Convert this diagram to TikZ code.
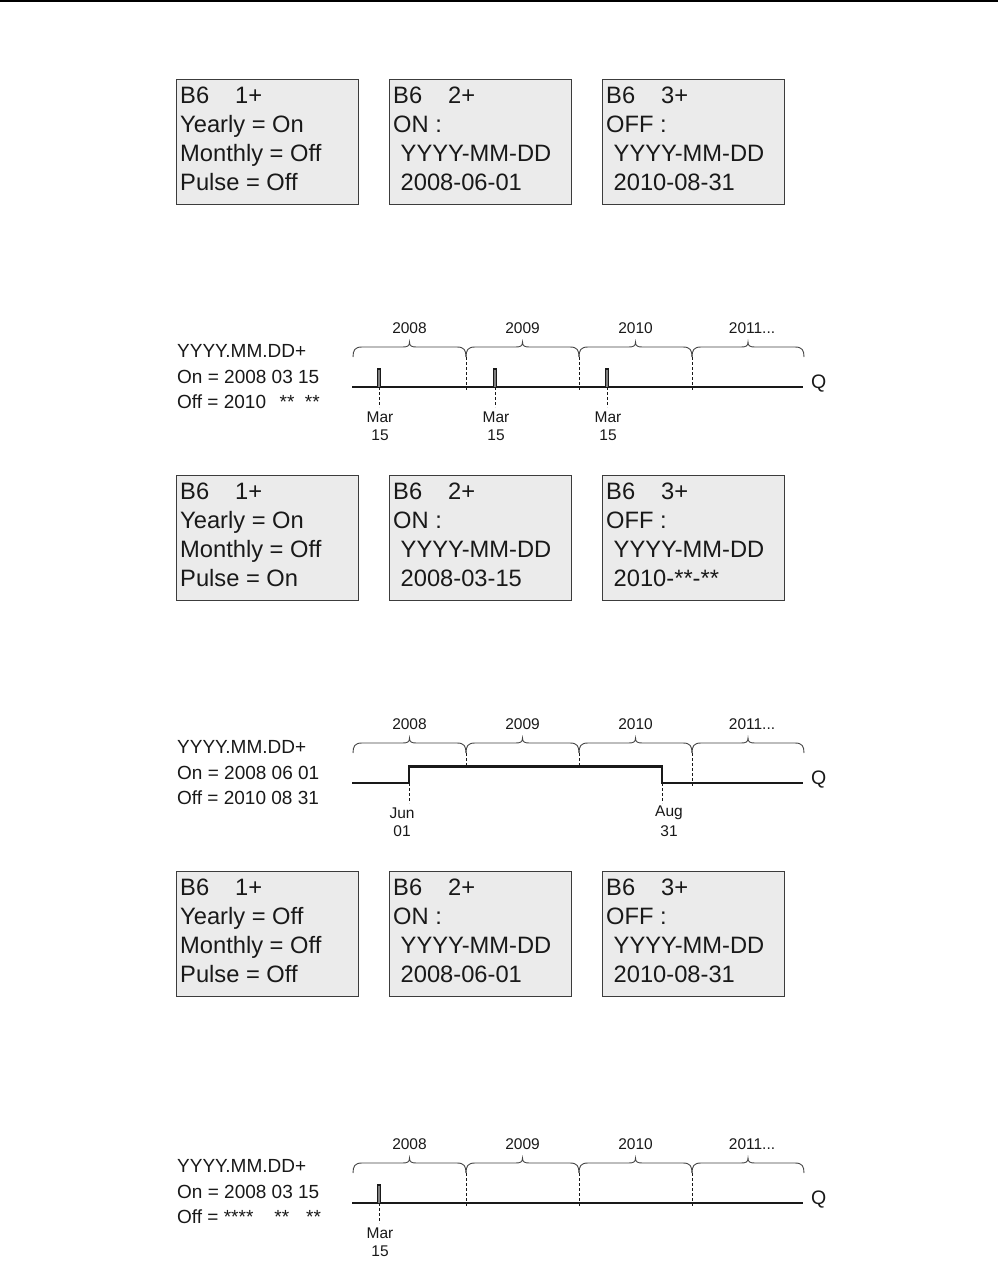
\documentclass[tikz,border=0pt]{standalone}
\usepackage{fontspec}
\setmainfont{Liberation Sans}
\usetikzlibrary{calc}
\definecolor{boxfill}{RGB}{235,235,235}
\definecolor{boxborder}{RGB}{60,60,60}
\definecolor{inkdark}{RGB}{25,25,25}
\definecolor{bracegray}{RGB}{70,70,70}
\tikzset{
  lcdbox/.style={draw=boxborder, fill=boxfill, line width=1.2pt, minimum width=182pt, minimum height=125pt, anchor=north west, inner sep=0pt},
  lcdtxt/.style={anchor=base west, inner sep=0pt, text=inkdark, font=\fontsize{23.7}{28}\selectfont},
  param/.style={anchor=base west, inner sep=0pt, text=inkdark, font=\fontsize{19}{23}\selectfont},
  yrlbl/.style={inner sep=0pt, text=inkdark, font=\fontsize{15.5}{18}\selectfont},
  qlbl/.style={anchor=west, inner sep=0pt, text=inkdark, font=\fontsize{19.5}{23}\selectfont},
  sig/.style={draw=inkdark, line width=2.3pt, line join=miter},
  pulsebar/.style={draw=inkdark, fill=gray, line width=1.2pt},
  brc/.style={draw=bracegray, line width=0.9pt},
  bound/.style={draw=inkdark, line width=0.9pt, dash pattern=on 3pt off 2pt},
  rule/.style={draw=black, line width=1.2pt}
}
\newcommand\lcdpanel[7]{%
  \node[lcdbox] (#1) at (#2,#3) {};
  \node[lcdtxt] (#1-a) at ($(#1.north west)+(4,24)$) {#4};
  \node[lcdtxt] (#1-b) at ($(#1.north west)+(4,53)$) {#5};
  \node[lcdtxt] (#1-c) at ($(#1.north west)+(4,82)$) {#6};
  \node[lcdtxt] (#1-d) at ($(#1.north west)+(4,111)$) {#7};
}
\newcommand\yrbrace[3]{%
  \pgfmathsetmacro\bxm{(#1+#2)/2}%
  \draw[brc] (#1,#3-30) .. controls (#1,#3-37) and (#1+2,#3-40) .. (#1+9,#3-40)
    -- (\bxm-7,#3-40) .. controls (\bxm-2,#3-40) and (\bxm,#3-41) .. (\bxm,#3-45)
    .. controls (\bxm,#3-41) and (\bxm+2,#3-40) .. (\bxm+7,#3-40)
    -- (#2-9,#3-40) .. controls (#2-2,#3-40) and (#2,#3-37) .. (#2,#3-30);
}
\newcommand\yearrow[2]{% #1 prefix, #2 line y
  \yrbrace{353}{466}{#2}\yrbrace{466}{579}{#2}\yrbrace{579}{692}{#2}\yrbrace{692}{804}{#2}
  \node[yrlbl] (#1-y8) at (409.5,#2-59) {2008};
  \node[yrlbl] (#1-y9) at (522.5,#2-59) {2009};
  \node[yrlbl] (#1-y10) at (635.5,#2-59) {2010};
  \node[yrlbl] (#1-y11) at (752,#2-59) {2011...};
}
\newcommand\evlabel[6]{% name, x, L, month, day, label x
  \coordinate (#1-top) at (#2,#3);
  \coordinate (#1-bot) at (#2,#3+20);
  \draw[bound] (#1-top) -- (#1-bot);
  \node[yrlbl] (#1-m) at (#6,#3+30) {#4};
  \node[yrlbl] (#1-d) at (#6,#3+48.5) {#5};
}
\newcommand\pulse[3]{% name, x, L
  \draw[pulsebar] (#2-1.7,#3) -- (#2-1.7,#3-18) -- (#2+1.7,#3-18) -- (#2+1.7,#3);
}
\begin{document}
\begin{tikzpicture}[x=1pt,y=-1pt]
\fill[white] (0,0) rectangle (998,1264);
\useasboundingbox (0,0) rectangle (998,1264);
\coordinate (ruleA) at (0,1);
\coordinate (ruleB) at (998,1);
\draw[rule] (ruleA) -- (ruleB);

% ---------- panel set 1 ----------
\lcdpanel{p11}{176}{79}{\makebox[55pt][l]{B6}1+}{Yearly = On}{Monthly = Off}{Pulse = Off}
\lcdpanel{p12}{389}{79}{\makebox[55pt][l]{B6}2+}{ON :}{\hspace{7.5pt}YYYY-MM-DD}{\hspace{7.5pt}2008-06-01}
\lcdpanel{p13}{602}{79}{\makebox[55pt][l]{B6}3+}{OFF :}{\hspace{7.5pt}YYYY-MM-DD}{\hspace{7.5pt}2010-08-31}

% ---------- timeline 1 (L=387) ----------
\node[param] (t1a) at (177,357) {YYYY.MM.DD+};
\node[param] (t1b) at (177,383) {On = 2008 03 15};
\node[param] (t1c) at (177,408) {Off = 2010\hspace{13.5pt}**\hspace{10.5pt}**};
\yearrow{t1}{387}
\draw[bound] (466,357) -- (466,390);
\draw[bound] (579,357) -- (579,390);
\draw[bound] (692,357) -- (692,390);
\coordinate (t1s) at (352,387);
\coordinate (t1e) at (803,387);
\draw[sig] (t1s) -- (t1e);
\pulse{t1p1}{379}{387}
\pulse{t1p2}{495}{387}
\pulse{t1p3}{607}{387}
\evlabel{t1e1}{379}{387}{Mar}{15}{380}
\evlabel{t1e2}{495}{387}{Mar}{15}{496}
\evlabel{t1e3}{607}{387}{Mar}{15}{608}
\node[qlbl] (t1q) at (811,384) {Q};

% ---------- panel set 2 ----------
\lcdpanel{p21}{176}{475}{\makebox[55pt][l]{B6}1+}{Yearly = On}{Monthly = Off}{Pulse = On}
\lcdpanel{p22}{389}{475}{\makebox[55pt][l]{B6}2+}{ON :}{\hspace{7.5pt}YYYY-MM-DD}{\hspace{7.5pt}2008-03-15}
\lcdpanel{p23}{602}{475}{\makebox[55pt][l]{B6}3+}{OFF :}{\hspace{7.5pt}YYYY-MM-DD}{\hspace{7.5pt}2010-**-**}

% ---------- timeline 2 (L=783) ----------
\node[param] (t2a) at (177,753) {YYYY.MM.DD+};
\node[param] (t2b) at (177,779) {On = 2008 06 01};
\node[param] (t2c) at (177,804) {Off = 2010 08 31};
\yearrow{t2}{783}
\draw[bound] (466,753) -- (466,767);
\draw[bound] (579,753) -- (579,767);
\draw[bound] (692,753) -- (692,786);
\coordinate (t2s) at (352,783);
\coordinate (t2r) at (409,783);
\coordinate (t2f) at (662,783);
\coordinate (t2e) at (803,783);
\draw[sig] (t2s) -- (t2r) -- ++(0,-16.5) -| (t2f) -- (t2e);
\evlabel{t2e1}{409}{783}{Jun}{01}{402}
\evlabel{t2e2}{662}{783}{Aug}{31}{669}
\node[qlbl] (t2q) at (811,780) {Q};

% ---------- panel set 3 ----------
\lcdpanel{p31}{176}{871}{\makebox[55pt][l]{B6}1+}{Yearly = Off}{Monthly = Off}{Pulse = Off}
\lcdpanel{p32}{389}{871}{\makebox[55pt][l]{B6}2+}{ON :}{\hspace{7.5pt}YYYY-MM-DD}{\hspace{7.5pt}2008-06-01}
\lcdpanel{p33}{602}{871}{\makebox[55pt][l]{B6}3+}{OFF :}{\hspace{7.5pt}YYYY-MM-DD}{\hspace{7.5pt}2010-08-31}

% ---------- timeline 3 (L=1203) ----------
\node[param] (t3a) at (177,1172) {YYYY.MM.DD+};
\node[param] (t3b) at (177,1198) {On = 2008 03 15};
\node[param] (t3c) at (177,1223) {Off = ****\hspace{21pt}**\hspace{17pt}**};
\yearrow{t3}{1203}
\draw[bound] (466,1173) -- (466,1206);
\draw[bound] (579,1173) -- (579,1206);
\draw[bound] (692,1173) -- (692,1206);
\coordinate (t3s) at (352,1203);
\coordinate (t3e) at (803,1203);
\draw[sig] (t3s) -- (t3e);
\pulse{t3p1}{379}{1203}
\evlabel{t3e1}{379}{1203}{Mar}{15}{380}
\node[qlbl] (t3q) at (811,1200) {Q};
\end{tikzpicture}
\end{document}
